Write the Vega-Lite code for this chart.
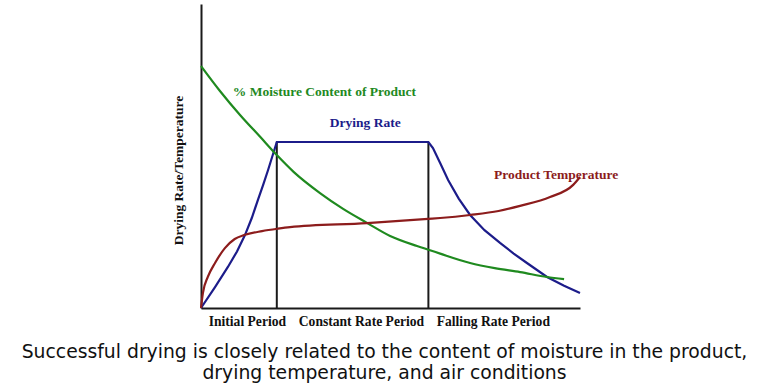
{
  "$schema": "https://vega.github.io/schema/vega-lite/v6.json",
  "width": 379,
  "height": 304,
  "autosize": {"type": "none"},
  "padding": {"left": 201, "top": 4, "right": 188, "bottom": 76},
  "background": "white",
  "config": {"view": {"stroke": null}},
  "title": {
    "text": ["Successful drying is closely related to the content of moisture in the product,", "drying temperature, and air conditions"],
    "orient": "bottom",
    "anchor": "middle",
    "frame": "group",
    "font": "DejaVu Sans",
    "fontSize": 18.8,
    "fontWeight": "normal",
    "color": "#111111",
    "lineHeight": 21,
    "dx": -6,
    "offset": 15
  },
  "datasets": {
    "curves": [
      {"series": "Drying Rate", "x": 0, "y": 0},
      {"series": "Drying Rate", "x": 3.7, "y": 6.9},
      {"series": "Drying Rate", "x": 7.1, "y": 13.5},
      {"series": "Drying Rate", "x": 9.5, "y": 18.6},
      {"series": "Drying Rate", "x": 11.6, "y": 24.0},
      {"series": "Drying Rate", "x": 13.4, "y": 29.6},
      {"series": "Drying Rate", "x": 15.0, "y": 35.5},
      {"series": "Drying Rate", "x": 16.4, "y": 40.5},
      {"series": "Drying Rate", "x": 17.7, "y": 45.4},
      {"series": "Drying Rate", "x": 20, "y": 54.6},
      {"series": "Drying Rate", "x": 60, "y": 54.6},
      {"series": "Drying Rate", "x": 61.2, "y": 52.6},
      {"series": "Drying Rate", "x": 63.1, "y": 47.7},
      {"series": "Drying Rate", "x": 65.2, "y": 42.1},
      {"series": "Drying Rate", "x": 68, "y": 36},
      {"series": "Drying Rate", "x": 71, "y": 30.6},
      {"series": "Drying Rate", "x": 74.8, "y": 25.6},
      {"series": "Drying Rate", "x": 78.9, "y": 21.4},
      {"series": "Drying Rate", "x": 82.5, "y": 17.9},
      {"series": "Drying Rate", "x": 86, "y": 14.8},
      {"series": "Drying Rate", "x": 91.3, "y": 10.2},
      {"series": "Drying Rate", "x": 95.8, "y": 7.3},
      {"series": "Drying Rate", "x": 100, "y": 4.9},
      {"series": "Moisture", "x": 0, "y": 79.6},
      {"series": "Moisture", "x": 5.0, "y": 71.4},
      {"series": "Moisture", "x": 10.3, "y": 63.5},
      {"series": "Moisture", "x": 15.6, "y": 56.3},
      {"series": "Moisture", "x": 20, "y": 50.3},
      {"series": "Moisture", "x": 24.5, "y": 44.7},
      {"series": "Moisture", "x": 31.4, "y": 37.8},
      {"series": "Moisture", "x": 37.5, "y": 32.6},
      {"series": "Moisture", "x": 43.8, "y": 28.0},
      {"series": "Moisture", "x": 49.9, "y": 23.7},
      {"series": "Moisture", "x": 57, "y": 20.4},
      {"series": "Moisture", "x": 60.2, "y": 19.1},
      {"series": "Moisture", "x": 63.3, "y": 17.8},
      {"series": "Moisture", "x": 71, "y": 14.8},
      {"series": "Moisture", "x": 77.5, "y": 13.1},
      {"series": "Moisture", "x": 84.2, "y": 11.8},
      {"series": "Moisture", "x": 91.3, "y": 10.2},
      {"series": "Moisture", "x": 95.8, "y": 9.5},
      {"series": "Temperature", "x": 0, "y": 0},
      {"series": "Temperature", "x": 0.5, "y": 4.9},
      {"series": "Temperature", "x": 1.8, "y": 10.2},
      {"series": "Temperature", "x": 3.7, "y": 14.8},
      {"series": "Temperature", "x": 6.3, "y": 19.7},
      {"series": "Temperature", "x": 8.9, "y": 22.7},
      {"series": "Temperature", "x": 11.4, "y": 24.0},
      {"series": "Temperature", "x": 16.1, "y": 25.3},
      {"series": "Temperature", "x": 20.3, "y": 26.1},
      {"series": "Temperature", "x": 23.5, "y": 26.6},
      {"series": "Temperature", "x": 43.8, "y": 27.9},
      {"series": "Temperature", "x": 59.9, "y": 29.3},
      {"series": "Temperature", "x": 63.1, "y": 29.6},
      {"series": "Temperature", "x": 71, "y": 30.6},
      {"series": "Temperature", "x": 78.5, "y": 31.9},
      {"series": "Temperature", "x": 84.2, "y": 33.6},
      {"series": "Temperature", "x": 92.1, "y": 36.5},
      {"series": "Temperature", "x": 98.2, "y": 40.5},
      {"series": "Temperature", "x": 100, "y": 43.1}
    ],
    "dividers": [
      {"x": 20, "y": 0, "y2": 54.6},
      {"x": 60, "y": 0, "y2": 54.6}
    ],
    "labels": [
      {"text": "% Moisture Content of Product", "x": 8.4, "y": 71.1, "series": "Moisture"},
      {"text": "Drying Rate", "x": 34.0, "y": 60.9, "series": "Drying Rate"},
      {"text": "Product Temperature", "x": 77.3, "y": 43.75, "series": "Temperature"}
    ]
  },
  "layer": [
    {
      "data": {"name": "dividers"},
      "mark": {"type": "rule", "color": "#1a1a1a", "strokeWidth": 2},
      "encoding": {
        "x": {
          "field": "x", "type": "quantitative",
          "scale": {"domain": [0, 100], "nice": false},
          "axis": {
            "title": null,
            "values": [12.1, 42.2, 77],
            "labelExpr": "datum.value < 20 ? 'Initial Period' : datum.value < 60 ? 'Constant Rate Period' : 'Falling Rate Period'",
            "ticks": false,
            "grid": false,
            "domainColor": "#1a1a1a",
            "domainWidth": 2,
            "labelFont": "Liberation Serif",
            "labelFontWeight": "bold",
            "labelFontSize": 13.6,
            "labelColor": "#111111",
            "labelPadding": 6,
            "labelFlush": false,
            "labelOverlap": false
          }
        },
        "y": {
          "field": "y", "type": "quantitative",
          "scale": {"domain": [0, 100], "nice": false},
          "axis": {
            "title": "Drying Rate/Temperature",
            "titleFont": "Liberation Serif",
            "titleFontWeight": "bold",
            "titleFontSize": 13.5,
            "titleColor": "#111111",
            "titleX": -16,
            "titleY": 166,
            "labels": false,
            "ticks": false,
            "grid": false,
            "domainColor": "#1a1a1a",
            "domainWidth": 2
          }
        },
        "y2": {"field": "y2"}
      }
    },
    {
      "data": {"name": "curves"},
      "transform": [{"filter": "datum.series == 'Drying Rate'"}],
      "mark": {"type": "line", "strokeWidth": 2.2, "interpolate": "linear", "color": "#1c1c8a"},
      "encoding": {
        "x": {"field": "x", "type": "quantitative"},
        "y": {"field": "y", "type": "quantitative"}
      }
    },
    {
      "data": {"name": "curves"},
      "transform": [{"filter": "datum.series != 'Drying Rate'"}],
      "mark": {"type": "line", "strokeWidth": 2.2, "interpolate": "monotone"},
      "encoding": {
        "x": {"field": "x", "type": "quantitative"},
        "y": {"field": "y", "type": "quantitative"},
        "color": {
          "field": "series", "type": "nominal",
          "scale": {"domain": ["Drying Rate", "Moisture", "Temperature"], "range": ["#1c1c8a", "#1f8a1f", "#8c1c1c"]},
          "legend": null
        }
      }
    },
    {
      "data": {"name": "labels"},
      "mark": {"type": "text", "font": "Liberation Serif", "fontWeight": "bold", "fontSize": 13.5, "baseline": "middle", "align": "left"},
      "encoding": {
        "x": {"field": "x", "type": "quantitative"},
        "y": {"field": "y", "type": "quantitative"},
        "text": {"field": "text"},
        "color": {
          "field": "series", "type": "nominal",
          "scale": {"domain": ["Drying Rate", "Moisture", "Temperature"], "range": ["#1c1c8a", "#1f8a1f", "#8c1c1c"]},
          "legend": null
        }
      }
    }
  ]
}
